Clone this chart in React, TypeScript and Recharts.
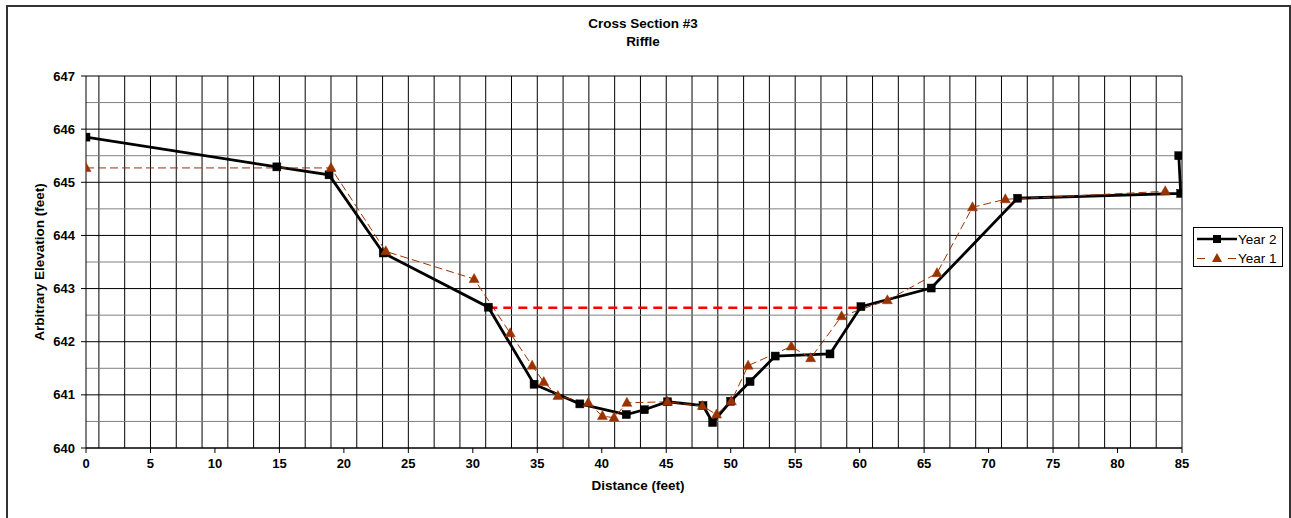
import React from 'react';
import { LineChart, Line, XAxis, YAxis, CartesianGrid, Legend } from 'recharts';

// ---- data ----
const year2X = [0, 14.8, 18.85, 23.05, 31.2, 34.75, 38.3, 41.9, 43.3, 45.1, 47.85, 48.6, 50.0, 51.5, 53.45, 57.7, 60.1, 65.55, 72.25, 84.9, 84.75];
const year2Y = [645.85, 645.29, 645.14, 643.67, 642.65, 641.2, 640.83, 640.63, 640.72, 640.87, 640.8, 640.48, 640.88, 641.25, 641.73, 641.77, 642.66, 643.01, 644.7, 644.79, 645.5];

const year1X = [0, 19.0, 23.25, 30.1, 32.9, 34.6, 35.5, 36.6, 38.95, 40.05, 40.95, 41.95, 45.1, 47.8, 48.9, 50.05, 51.35, 54.7, 56.2, 58.6, 62.15, 66.0, 68.75, 71.3, 83.7];
const year1Y = [645.27, 645.27, 643.7, 643.18, 642.16, 641.55, 641.24, 640.98, 640.85, 640.6, 640.57, 640.85, 640.87, 640.79, 640.63, 640.88, 641.55, 641.91, 641.69, 642.48, 642.78, 643.29, 644.53, 644.68, 644.83];

const bankfullX = [31.2, 60.1];
const bankfullY = [642.64, 642.64];

const xTicks = [0, 5, 10, 15, 20, 25, 30, 35, 40, 45, 50, 55, 60, 65, 70, 75, 80, 85];
const yTicks = [640, 641, 642, 643, 644, 645, 646, 647];
const xGridValues = Array.from({ length: 86 }, (_, i) => i);
const yMinorGrid = [640.5, 641.5, 642.5, 643.5, 644.5, 645.5, 646.5];

const seriesNames = ['Year 2', 'Year 1'];

const year2 = year2X.map((x, i) => ({ x, y: year2Y[i] }));
const year1 = year1X.map((x, i) => ({ x, y: year1Y[i] }));
const bankfull = bankfullX.map((x, i) => ({ x, y: bankfullY[i] }));

const FONT = '"Liberation Sans", Arial, sans-serif';
const BROWN = '#993300';

const SquareDot = (props: any) => {
  const { cx, cy, index } = props;
  if (cx == null || cy == null) return <g key={`s${index}`} />;
  return <rect key={`s${index}`} x={cx - 4} y={cy - 4} width={8} height={8} fill="#000" stroke="#000" strokeWidth={0.5} />;
};

const TriangleDot = (props: any) => {
  const { cx, cy, index } = props;
  if (cx == null || cy == null) return <g key={`t${index}`} />;
  return (
    <path
      key={`t${index}`}
      d={`M${cx},${cy - 5.5} L${cx + 5},${cy + 3.5} L${cx - 5},${cy + 3.5} Z`}
      fill={BROWN}
      stroke={BROWN}
      strokeWidth={0.5}
    />
  );
};

const LegendBox = () => (
  <div
    style={{
      width: 90,
      height: 40,
      border: '1px solid #000',
      boxSizing: 'border-box',
      background: '#fff',
      fontFamily: FONT,
      fontSize: 13.5,
      color: '#000',
    }}
  >
    <div style={{ display: 'flex', alignItems: 'center', height: 20, marginTop: 1 }}>
      <svg width={42} height={14} style={{ marginLeft: 2 }}>
        <line x1={1} y1={7} x2={41} y2={7} stroke="#000" strokeWidth={2.5} />
        <rect x={17} y={3} width={8} height={8} fill="#000" />
      </svg>
      <span>{seriesNames[0]}</span>
    </div>
    <div style={{ display: 'flex', alignItems: 'center', height: 18 }}>
      <svg width={42} height={14} style={{ marginLeft: 2 }}>
        <line x1={1} y1={7.5} x2={9} y2={7.5} stroke={BROWN} strokeWidth={1} />
        <line x1={32} y1={7.5} x2={40} y2={7.5} stroke={BROWN} strokeWidth={1} />
        <path d="M21,2 L26,11 L16,11 Z" fill={BROWN} />
      </svg>
      <span>{seriesNames[1]}</span>
    </div>
  </div>
);

export default function App() {
  return (
    <div style={{ position: 'absolute', left: 0, top: 0, width: 1291, height: 518, overflow: 'hidden', background: '#fff' }}>
      <div
        style={{
          position: 'absolute',
          left: 6,
          top: 5,
          width: 1285,
          height: 600,
          border: '2px solid #333',
          boxSizing: 'border-box',
        }}
      />
      <div
        style={{
          position: 'absolute',
          left: 443,
          top: 16,
          width: 400,
          textAlign: 'center',
          fontFamily: FONT,
          fontWeight: 'bold',
          fontSize: 13.5,
          lineHeight: '16px',
          color: '#000',
        }}
      >
        Cross Section #3
      </div>
      <div
        style={{
          position: 'absolute',
          left: 443,
          top: 34,
          width: 400,
          textAlign: 'center',
          fontFamily: FONT,
          fontWeight: 'bold',
          fontSize: 13.5,
          lineHeight: '16px',
          color: '#000',
        }}
      >
        Riffle
      </div>
      <div style={{ position: 'absolute', left: 0, top: 0 }}>
        <LineChart width={1291} height={518} margin={{ top: 76, right: 109, bottom: 30, left: 0 }}>
          <CartesianGrid horizontal={false} verticalValues={xGridValues} stroke="#000" strokeWidth={1} />
          <CartesianGrid vertical={false} horizontalValues={yMinorGrid} stroke="#808080" strokeWidth={1} />
          <CartesianGrid vertical={false} horizontalValues={yTicks} stroke="#000" strokeWidth={1} />
          <XAxis
            dataKey="x"
            type="number"
            domain={[0, 85]}
            ticks={xTicks}
            allowDataOverflow
            height={40}
            axisLine={{ stroke: '#000', strokeWidth: 1 }}
            tickLine={{ stroke: '#000' }}
            tickSize={5}
            tickMargin={6}
            tick={{ fill: '#000', fontFamily: FONT, fontWeight: 'bold', fontSize: 13 }}
            label={{
              value: 'Distance (feet)',
              position: 'insideBottom',
              offset: -2,
              fill: '#000',
              fontFamily: FONT,
              fontWeight: 'bold',
              fontSize: 13.5,
              dx: 4,
            }}
          />
          <YAxis
            dataKey="y"
            type="number"
            domain={[640, 647]}
            ticks={yTicks}
            allowDataOverflow
            width={86}
            axisLine={{ stroke: '#000', strokeWidth: 1 }}
            tickLine={{ stroke: '#000' }}
            tickSize={5}
            tickMargin={6}
            tick={{ fill: '#000', fontFamily: FONT, fontWeight: 'bold', fontSize: 13 }}
            label={{
              value: 'Arbitrary Elevation (feet)',
              angle: -90,
              position: 'center',
              dx: -4,
              fill: '#000',
              fontFamily: FONT,
              fontWeight: 'bold',
              fontSize: 13.5,
            }}
          />
          <Legend
            layout="horizontal"
            verticalAlign="middle"
            align="center"
            wrapperStyle={{ position: 'absolute', left: 1193, top: 227, width: 90, height: 40 }}
            content={() => <LegendBox />}
          />
          <Line
            data={bankfull}
            dataKey="y"
            name="Bankfull"
            legendType="none"
            stroke="#ff0000"
            strokeWidth={2.5}
            strokeDasharray="9 6"
            dot={false}
            activeDot={false}
            isAnimationActive={false}
          />
          <Line
            data={year2}
            dataKey="y"
            name={seriesNames[0]}
            stroke="#000"
            strokeWidth={2.8}
            dot={SquareDot}
            activeDot={false}
            isAnimationActive={false}
          />
          <Line
            data={year1}
            dataKey="y"
            name={seriesNames[1]}
            stroke={BROWN}
            strokeWidth={1}
            strokeDasharray="8 4"
            dot={TriangleDot}
            activeDot={false}
            isAnimationActive={false}
          />
        </LineChart>
      </div>
    </div>
  );
}
